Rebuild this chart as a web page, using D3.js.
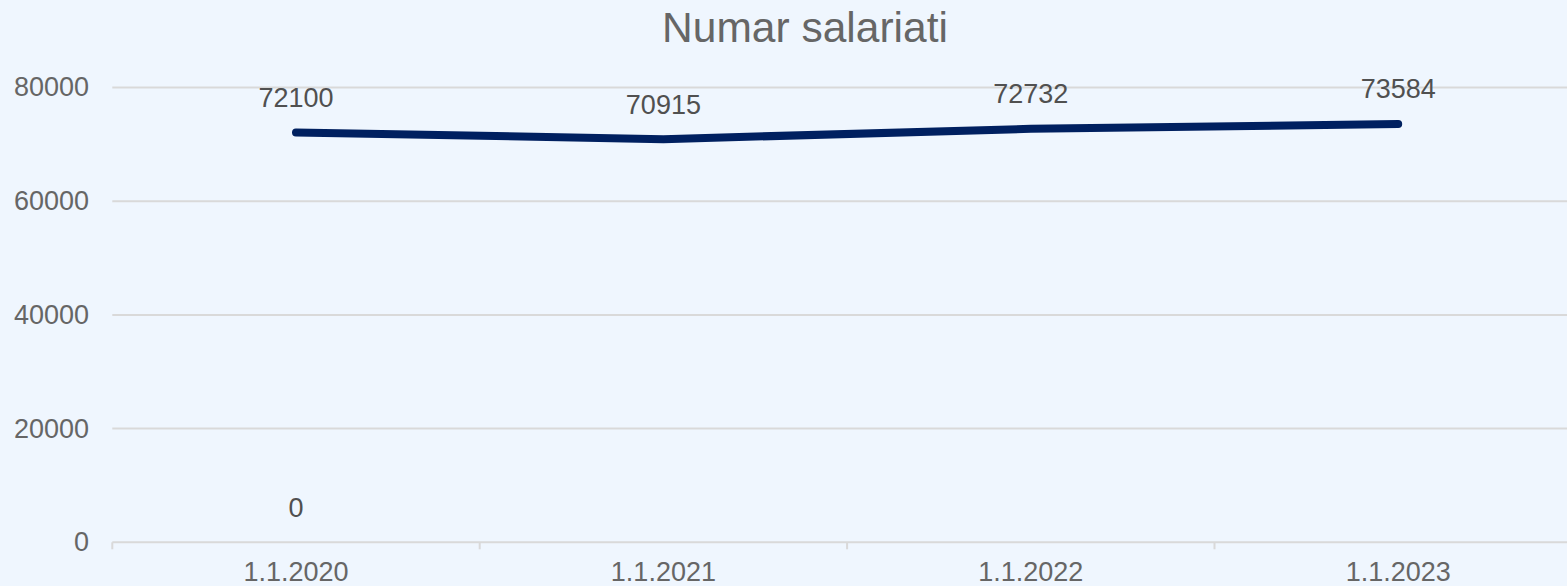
<!DOCTYPE html>
<meta charset="utf-8">
<style>
body { margin: 0; background: #eff6fe; }
svg { display: block; font-family: Arial, "Liberation Sans", sans-serif; }
.grid line { stroke: #d9d9d9; stroke-width: 2px; }
.axis text { fill: #666; font-size: 27px; }
.title { fill: #666; font-size: 42.5px; }
.label { fill: #505050; font-size: 27px; }
</style>
<body>
<script src="https://d3js.org/d3.v7.min.js"></script>
<script>

var categories = ["1.1.2020", "1.1.2021", "1.1.2022", "1.1.2023"];
var salariati = [72100, 70915, 72732, 73584];
// second series only has the first point, its line is invisible but the label shows
var extraSeries = [0];
var yTicks = [0, 20000, 40000, 60000, 80000];

var width = 1567, height = 586;
var margin = {top: 87.5, left: 112.3, bottom: 43.7};
var plotRight = 112.3 + 4 * 367.4;

var svg = d3.select("body").append("svg")
    .attr("width", width)
    .attr("height", height);

var x = d3.scaleBand()
    .domain(categories)
    .range([margin.left, plotRight]);

var y = d3.scaleLinear()
    .domain([0, 80000])
    .range([height - margin.bottom, margin.top]);

// gridlines
svg.append("g")
    .attr("class", "grid")
  .selectAll("line")
    .data(yTicks)
  .enter().append("line")
    .attr("x1", margin.left)
    .attr("x2", plotRight)
    .attr("y1", function(d) { return y(d); })
    .attr("y2", function(d) { return y(d); });

// y labels
svg.append("g")
    .attr("class", "axis")
  .selectAll("text")
    .data(yTicks)
  .enter().append("text")
    .attr("x", 89)
    .attr("y", function(d) { return y(d); })
    .attr("dy", "0.33em")
    .style("text-anchor", "end")
    .text(function(d) { return d; });

// x axis ticks
var bounds = categories.map(function(c) { return x(c); }).concat([plotRight]);
svg.append("g")
    .attr("class", "grid")
  .selectAll("line")
    .data(bounds)
  .enter().append("line")
    .attr("x1", function(d) { return d; })
    .attr("x2", function(d) { return d; })
    .attr("y1", y(0))
    .attr("y2", y(0) + 7);

svg.append("g")
    .attr("class", "axis")
  .selectAll("text")
    .data(categories)
  .enter().append("text")
    .attr("x", function(d) { return x(d) + x.bandwidth() / 2; })
    .attr("y", 580.5)
    .style("text-anchor", "middle")
    .text(function(d) { return d; });

// line
var pts = salariati.map(function(v, i) { return {c: categories[i], v: v}; });
var line = d3.line()
    .x(function(d) { return x(d.c) + x.bandwidth() / 2; })
    .y(function(d) { return y(d.v); });

svg.append("path")
    .datum(pts)
    .attr("d", line)
    .attr("fill", "none")
    .attr("stroke", "#002060")
    .attr("stroke-width", 8)
    .attr("stroke-linecap", "round")
    .attr("stroke-linejoin", "round");

// data labels
var extraPts = extraSeries.map(function(v, i) { return {c: categories[i], v: v}; });
svg.append("g")
  .selectAll("text")
    .data(pts.concat(extraPts))
  .enter().append("text")
    .attr("class", "label")
    .attr("x", function(d) { return x(d.c) + x.bandwidth() / 2; })
    .attr("y", function(d) { return y(d.v) - 25.5; })
    .style("text-anchor", "middle")
    .text(function(d) { return d.v; });

// title
svg.append("text")
    .attr("class", "title")
    .attr("x", 805)
    .attr("y", 42)
    .style("text-anchor", "middle")
    .text("Numar salariati");

</script>
</body>
